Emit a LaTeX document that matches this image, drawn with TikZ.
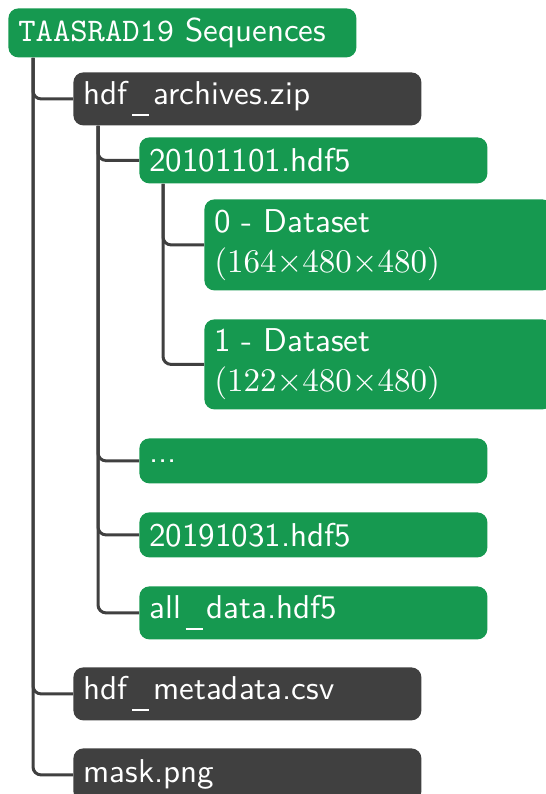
\documentclass[tikz,border=0pt]{standalone}
\usepackage{fontspec}
\setsansfont{lmsans10-regular.otf}
\setmonofont{lmmono10-regular.otf}
\newfontfamily\rmten{lmroman10-regular.otf}
\definecolor{tgreen}{RGB}{22,153,80}
\definecolor{tdark}{RGB}{64,64,64}
\newcommand{\usc}{\kern0.14em\rule[-0.36em]{0.52em}{0.09em}\kern0.12em}
\begin{document}
\begin{tikzpicture}[x=0.5pt,y=-0.5pt,
  box/.style={rounded corners=5pt, minimum width=174pt, text width=164pt, inner xsep=5pt, inner ysep=0pt, align=left, anchor=north west, text=white, font=\sffamily\fontsize{16.5}{20}\selectfont},
  gbox/.style={box, fill=tgreen},
  dbox/.style={box, fill=tdark},
  conn/.style={draw=tdark, line width=1.5pt, rounded corners=4pt}]
\path[use as bounding box, clip] (0,0) rectangle (546,794);
\node[gbox, minimum height=24.5pt] (root) at (8,8) {{\ttfamily TAASRAD19} Sequences};
\node[dbox, minimum height=26.5pt] (arch) at (73,72) {hdf\usc archives.zip};
\node[gbox, minimum height=23pt] (d1) at (139,137) {20101101.hdf5};
\node[gbox, minimum height=45.5pt] (ds0) at (204,199) {0 - Dataset\\{\rmten (164×480×480)}};
\node[gbox, minimum height=45pt] (ds1) at (204,319) {1 - Dataset\\{\rmten (122×480×480)}};
\node[gbox, minimum height=22.5pt] (dots) at (139,438) {...};
\node[gbox, minimum height=22.5pt] (d2) at (139,512) {20191031.hdf5};
\node[gbox, minimum height=26.5pt] (all) at (139,586) {all\usc data.hdf5};
\node[dbox, minimum height=26.5pt] (meta) at (73,667) {hdf\usc metadata.csv};
\node[dbox, minimum height=26.5pt] (mask) at (73,748) {mask.png};
\draw[conn] (root.south west) ++(25,0) |- (arch.west);
\draw[conn] (root.south west) ++(25,0) |- (meta.west);
\draw[conn] (root.south west) ++(25,0) |- (mask.west);
\draw[conn] (arch.south west) ++(25,0) |- (d1.west);
\draw[conn] (arch.south west) ++(25,0) |- (dots.west);
\draw[conn] (arch.south west) ++(25,0) |- (d2.west);
\draw[conn] (arch.south west) ++(25,0) |- (all.west);
\draw[conn] (d1.south west) ++(24,0) |- (ds0.west);
\draw[conn] (d1.south west) ++(24,0) |- (ds1.west);
\end{tikzpicture}
\end{document}
